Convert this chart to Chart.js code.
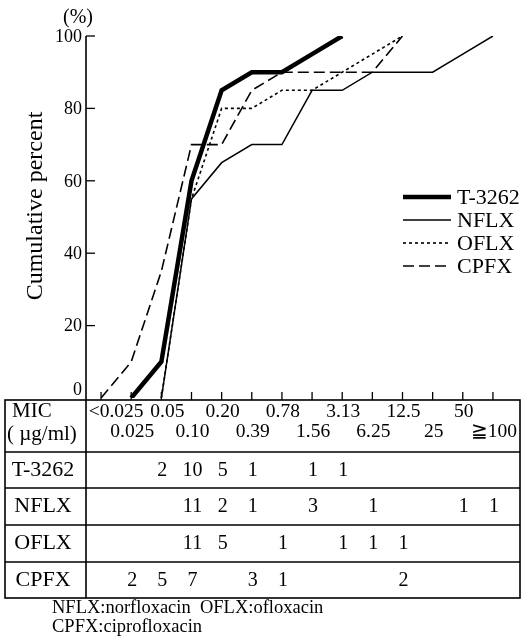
<!DOCTYPE html>
<html>
<head>
<meta charset="utf-8">
<script src="https://cdn.jsdelivr.net/npm/chart.js@4.4.0/dist/chart.umd.min.js"></script>
<style>
html, body { margin: 0; padding: 0; background: #fff; }
</style>
</head>
<body>
<canvas id="mic" width="521" height="638"></canvas>
<script>
// MIC categories (µg/ml)
var mic = ['<0.025', '0.025', '0.05', '0.10', '0.20', '0.39', '0.78', '1.56', '3.13', '6.25', '12.5', '25', '50', '≧100'];

// cumulative percent
var t3262Pct = [null, 0, 10, 60, 85, 90, 90, 95, 100, null, null, null, null, null];
var nflxPct  = [null, null, 0, 55, 65, 70, 70, 85, 85, 90, 90, 90, 95, 100];
var oflxPct  = [null, null, 0, 55, 80, 80, 85, 85, 90, 95, 100, null, null, null];
var cpfxPct  = [0, 10, 35, 70, 70, 85, 90, 90, 90, 90, 100, null, null, null];

// number of strains at each MIC (table rows)
var t3262Count = [null, null, 2, 10, 5, 1, null, 1, 1, null, null, null, null, null];
var nflxCount  = [null, null, null, 11, 2, 1, null, 3, null, 1, null, null, 1, 1];
var oflxCount  = [null, null, null, 11, 5, null, 1, null, 1, 1, 1, null, null, null];
var cpfxCount  = [null, 2, 5, 7, null, 3, 1, null, null, null, 2, null, null, null];

var drugs = ['T-3262', 'NFLX', 'OFLX', 'CPFX'];
var counts = [t3262Count, nflxCount, oflxCount, cpfxCount];
var yTicks = [0, 20, 40, 60, 80, 100];

var serif = "'Liberation Serif', 'Times New Roman', serif";

// table, axes, legend and notes
var decor = {
    id: 'decor',
    afterDraw: function (chart) {
        var ctx = chart.ctx;
        var xs = chart.scales.x;
        var ys = chart.scales.y;
        var axisX = chart.chartArea.left;
        var tableTop = 400;
        var rowLines = [452, 488, 525, 562, 598];
        var rowMid = [470, 506, 543, 580];

        ctx.save();
        ctx.strokeStyle = '#000';
        ctx.fillStyle = '#000';
        ctx.lineWidth = 1.6;

        // y axis
        ctx.beginPath();
        ctx.moveTo(axisX, ys.getPixelForValue(100));
        ctx.lineTo(axisX, tableTop);
        ctx.stroke();
        ctx.lineWidth = 1.3;
        yTicks.forEach(function (v) {
            var py = ys.getPixelForValue(v);
            if (v > 0) {
                ctx.beginPath();
                ctx.moveTo(axisX, py);
                ctx.lineTo(axisX + 9, py);
                ctx.stroke();
            }
            ctx.font = '18px ' + serif;
            ctx.textAlign = 'right';
            ctx.textBaseline = 'middle';
            ctx.fillText(String(v), axisX - 4, v === 0 ? py - 8 : py + 1);
        });

        // x ticks pointing up from the table, MIC labels inside the header row
        ctx.font = '19.5px ' + serif;
        ctx.textAlign = 'center';
        for (var i = 0; i < mic.length; i++) {
            var px = xs.getPixelForTick(i);
            ctx.beginPath();
            ctx.moveTo(px, tableTop);
            ctx.lineTo(px, tableTop - 8);
            ctx.stroke();
            var nudge = i === 0 ? 15 : (i === 2 ? 6 : 1);
            ctx.fillText(mic[i], px + nudge, i % 2 === 0 ? 412 : 432);
        }

        // axis title and unit
        ctx.save();
        ctx.translate(36, 206);
        ctx.rotate(-Math.PI / 2);
        ctx.font = '24px ' + serif;
        ctx.textAlign = 'center';
        ctx.textBaseline = 'middle';
        ctx.fillText('Cumulative percent', 0, 0);
        ctx.restore();
        ctx.font = '20px ' + serif;
        ctx.textAlign = 'center';
        ctx.textBaseline = 'middle';
        ctx.fillText('(%)', 78, 18);

        // table frame
        ctx.lineWidth = 1.6;
        ctx.strokeRect(5, tableTop, 515, rowLines[4] - tableTop);
        ctx.beginPath();
        ctx.moveTo(axisX, tableTop);
        ctx.lineTo(axisX, rowLines[4]);
        for (var r = 0; r < 4; r++) {
            ctx.moveTo(5, rowLines[r]);
            ctx.lineTo(520, rowLines[r]);
        }
        ctx.stroke();

        ctx.textAlign = 'left';
        ctx.font = '21px ' + serif;
        ctx.fillText('MIC', 12, 411);
        ctx.fillText('( µg/ml)', 7, 434);

        for (var d = 0; d < drugs.length; d++) {
            ctx.textAlign = 'center';
            ctx.font = '22px ' + serif;
            ctx.fillText(drugs[d], 43, rowMid[d]);
            ctx.font = '20px ' + serif;
            for (var k = 0; k < mic.length; k++) {
                if (counts[d][k] != null) {
                    ctx.fillText(String(counts[d][k]), xs.getPixelForTick(k) + 1, rowMid[d] + 1);
                }
            }
        }

        // legend
        chart.data.datasets.forEach(function (ds, n) {
            var ly = 197 + n * 23;
            ctx.save();
            ctx.lineWidth = ds.borderWidth;
            ctx.setLineDash(ds.borderDash || []);
            ctx.beginPath();
            ctx.moveTo(403, ly);
            ctx.lineTo(451, ly);
            ctx.stroke();
            ctx.restore();
            ctx.textAlign = 'left';
            ctx.font = '22px ' + serif;
            ctx.fillText(ds.label, 457, ly + 1);
        });

        // footnote
        ctx.font = '18.5px ' + serif;
        ctx.textAlign = 'left';
        ctx.fillText('NFLX:norfloxacin  OFLX:ofloxacin', 52, 608);
        ctx.fillText('CPFX:ciprofloxacin', 52, 627);
        ctx.restore();
    }
};

var ctx = document.getElementById('mic');
new Chart(ctx, {
    type: 'line',
    data: {
        labels: mic,
        datasets: [{
            label: 'T-3262',
            data: t3262Pct,
            borderColor: '#000',
            borderWidth: 4.5
        }, {
            label: 'NFLX',
            data: nflxPct,
            borderColor: '#000',
            borderWidth: 1.5
        }, {
            label: 'OFLX',
            data: oflxPct,
            borderColor: '#000',
            borderWidth: 1.6,
            borderDash: [3, 3]
        }, {
            label: 'CPFX',
            data: cpfxPct,
            borderColor: '#000',
            borderWidth: 1.6,
            borderDash: [11, 5]
        }]
    },
    options: {
        responsive: false,
        animation: false,
        layout: { padding: { left: 0, right: 13, top: 36, bottom: 0 } },
        elements: { point: { radius: 0 }, line: { tension: 0 } },
        plugins: { legend: { display: false }, tooltip: { enabled: false } },
        scales: {
            x: {
                offset: true,
                grid: { display: false, drawTicks: false },
                border: { display: false },
                ticks: { display: false, autoSkip: false },
                afterFit: function (scale) { scale.height = 240; }
            },
            y: {
                min: 0,
                max: 100,
                grid: { display: false },
                border: { display: false },
                ticks: { display: false, stepSize: 20 },
                afterFit: function (scale) { scale.width = 86; }
            }
        }
    },
    plugins: [decor]
});
</script>
</body>
</html>
